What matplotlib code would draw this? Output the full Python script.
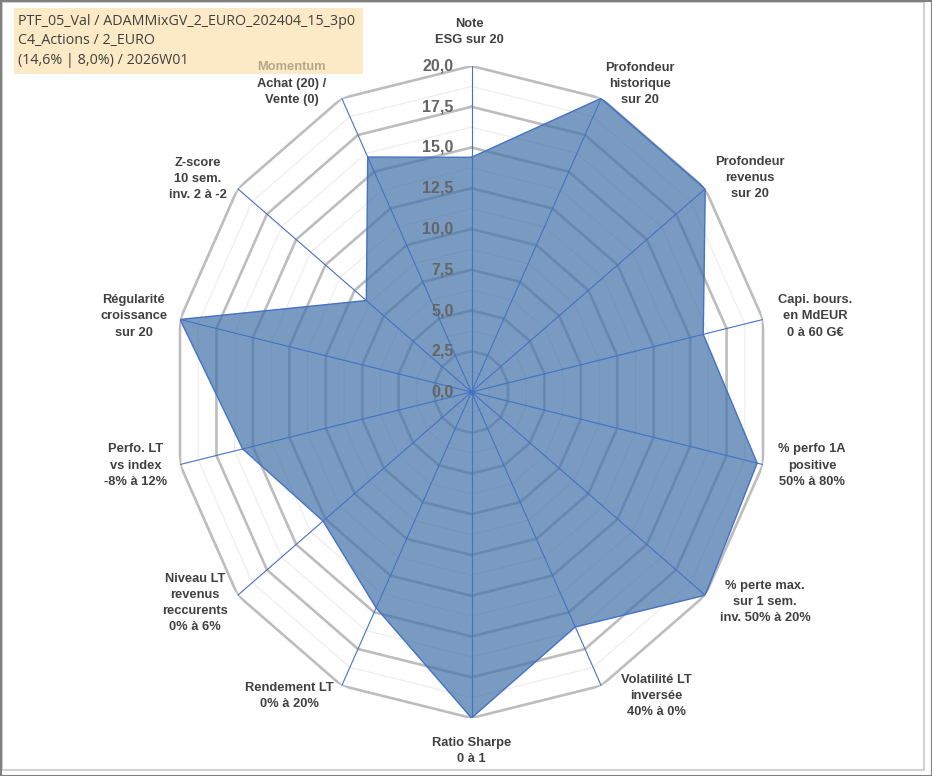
import numpy as np
import matplotlib
matplotlib.use('Agg')
import matplotlib.pyplot as plt
from matplotlib.patches import Rectangle

plt.rcParams['font.family'] = ['Liberation Sans', 'DejaVu Sans']

# --- data ---
categories = ["Note\nESG sur 20",
              "Profondeur\nhistorique\nsur 20",
              "Profondeur\nrevenus\nsur 20",
              "Capi. bours.\nen MdEUR\n0 à 60 G€",
              "% perfo 1A\npositive\n50% à 80%",
              "% perte max.\nsur 1 sem.\ninv. 50% à 20%",
              "Volatilité LT\ninversée\n40% à 0%",
              "Ratio Sharpe\n0 à 1",
              "Rendement LT\n0% à 20%",
              "Niveau LT\nrevenus\nreccurents\n0% à 6%",
              "Perfo. LT\nvs index\n-8% à 12%",
              "Régularité\ncroissance\nsur 20",
              "Z-score\n10 sem.\ninv. 2 à -2",
              "Achat (20) /\nVente (0)"]
values = [14.4, 20, 20, 15.9, 19.6, 20, 16.0, 20, 14.7, 12.7, 15.7, 20, 9.0, 16.0]
rticks = [0, 2.5, 5, 7.5, 10, 12.5, 15, 17.5, 20]
minor_ticks = [1.25, 3.75, 6.25, 8.75, 11.25, 13.75, 16.25, 18.75]
title_lines = ["PTF_05_Val / ADAMMixGV_2_EURO_202404_15_3p0",
               "C4_Actions / 2_EURO",
               "(14,6% | 8,0%) / 2026W01"]

# label offsets from the outer vertex, in pixels (x right, y up)
label_off = [(-2, 34), (39, 14), (45, 11), (52, 3), (49, -1), (60, -7), (55, -10),
             (0, -33), (-52, -10), (-43, -8), (-44, -1), (-46, 3), (-40, 10), (-50, 6)]

n = len(categories)
theta = np.arange(n) * 2 * np.pi / n
theta_c = np.append(theta, theta[0])
vals_c = np.append(values, values[0])

W, H = 932, 776
fig = plt.figure(figsize=(W / 100, H / 100), dpi=100)

# title box (behind everything)
fig.patches.append(Rectangle((14 / W, 1 - 74 / H), (363 - 14) / W, 66 / H,
                             transform=fig.transFigure, facecolor='#FCEAC6',
                             edgecolor='none', zorder=-5))

# axes box: centre (471.5, 392), rx 299, ry 326 (pixels)
cx, cy, rx, ry = 471.5, 392, 299, 326
ax = fig.add_axes([(cx - rx) / W, (H - cy - ry) / H, 2 * rx / W, 2 * ry / H],
                  projection='polar')
ax.set_zorder(2)
ax.set_aspect('auto')
ax.set_theta_zero_location('N')
ax.set_theta_direction(-1)
ax.set_ylim(0, 20)
ax.set_xticks([])
ax.set_yticks([])
ax.grid(False)
ax.spines['polar'].set_visible(False)
ax.patch.set_visible(False)

for r in minor_ticks:
    ax.plot(theta_c, [r] * (n + 1), color='#ECECEC', lw=0.8, zorder=1)
for r in rticks[1:]:
    ax.plot(theta_c, [r] * (n + 1), color='#BDBDBD', lw=1.9, zorder=1.5,
            solid_joinstyle='miter')

ax.fill(theta_c, vals_c, color='#4573AA', alpha=0.72, lw=0, zorder=2)
ax.plot(theta_c, vals_c, color='#4472C4', lw=1.0, zorder=3)

for t in theta:
    ax.plot([t, t], [0, 20], color='#4472C4', lw=0.8, zorder=4)
ax.plot([0], [0], 'o', color='#4472C4', ms=3, zorder=5)

for r in rticks:
    ax.annotate(f"{r:.1f}".replace('.', ','), xy=(0, r), xytext=(-18, 0),
                textcoords='offset pixels', ha='right', va='center',
                fontsize=11.5, fontweight='bold', color='#656565', zorder=6)

for t, lab, (ox, oy) in zip(theta, categories, label_off):
    ax.annotate(lab, xy=(t, 20), xytext=(ox, oy), textcoords='offset pixels',
                ha='center', va='center', multialignment='center',
                fontsize=9.3, fontweight='bold', color='#404040',
                linespacing=1.45, annotation_clip=False)
ax.annotate("Momentum", xy=(theta[-1], 20), xytext=(-50, 31),
            textcoords='offset pixels', ha='center', va='center',
            fontsize=9.3, fontweight='bold', color='#B5A888',
            annotation_clip=False)

for k, line in enumerate(title_lines):
    fig.text(18 / W, 1 - (25 + 19.5 * k) / H, line, fontsize=10.3,
             family=['Open Sans', 'DejaVu Sans'], color='#404040', va='baseline')

# frame
fig.patches.append(Rectangle((2 / W, 6 / H), 922 / W, 768 / H,
                             transform=fig.transFigure, fill=False,
                             edgecolor='#C8C8C8', lw=1.2))
fig.patches.append(Rectangle((0.5 / W, 0.5 / H), (W - 1) / W, (H - 1) / H,
                             transform=fig.transFigure, fill=False,
                             edgecolor='#808080', lw=1.5))

fig.savefig("out.png", dpi=100)
